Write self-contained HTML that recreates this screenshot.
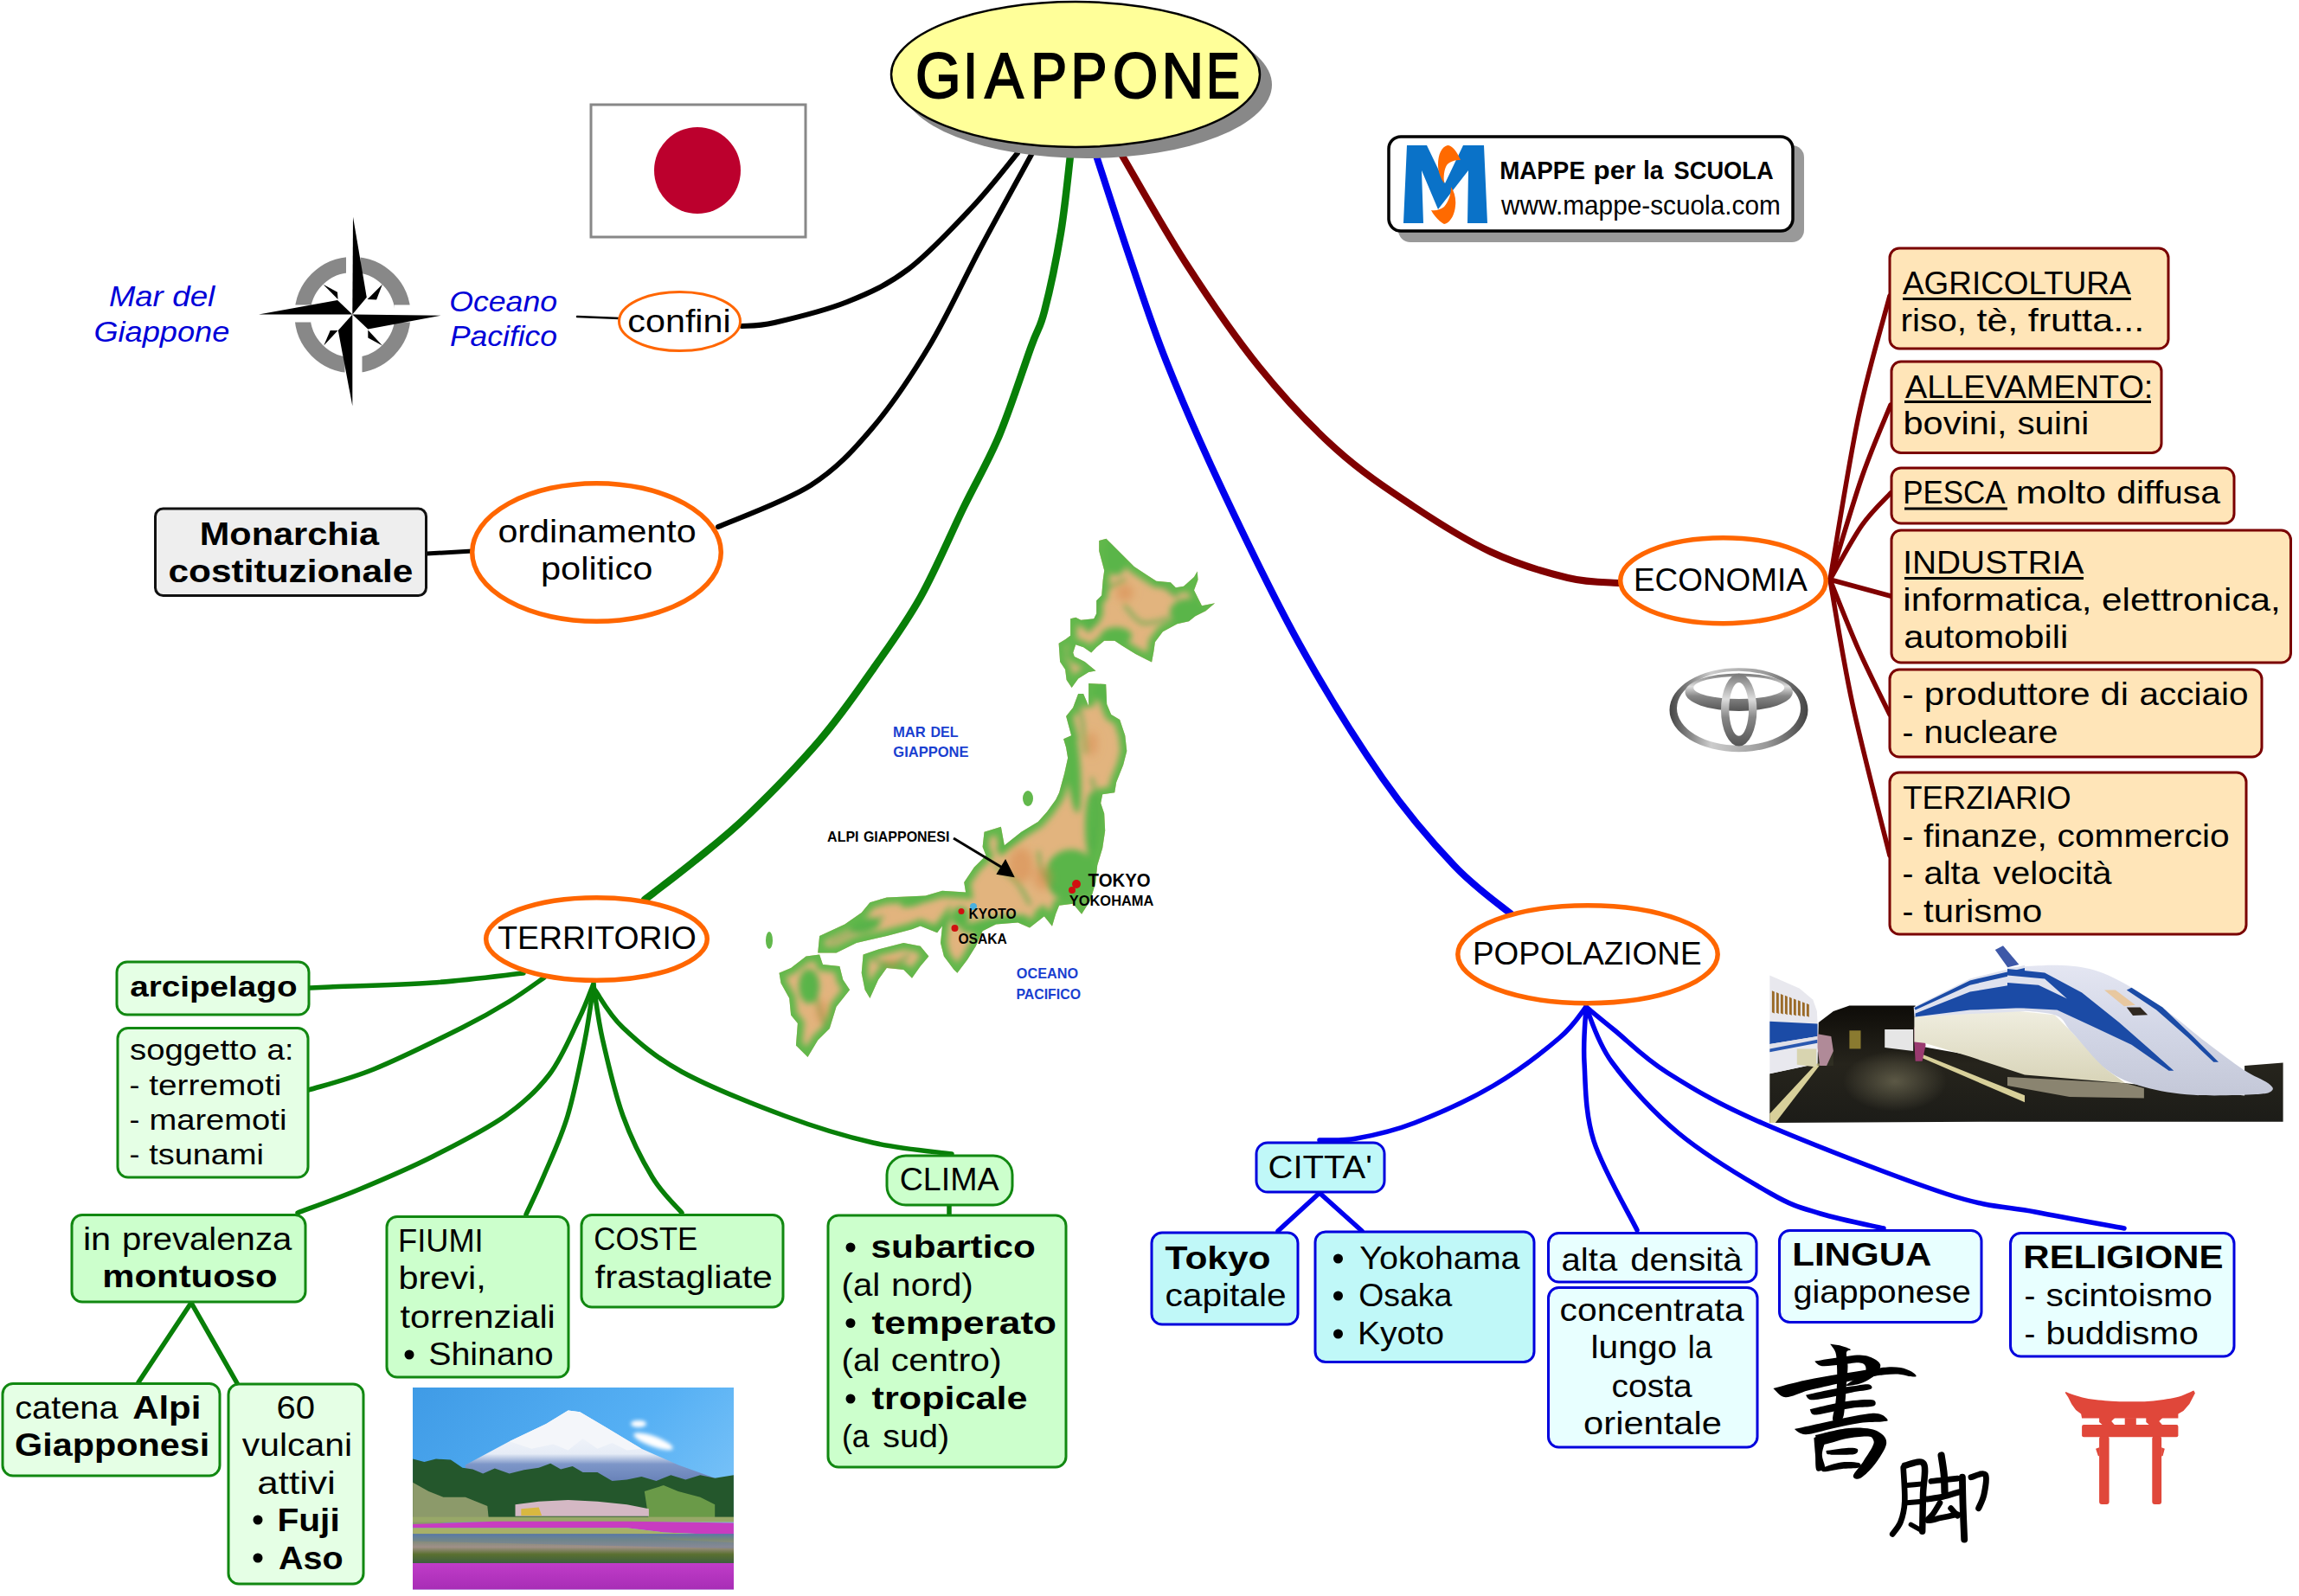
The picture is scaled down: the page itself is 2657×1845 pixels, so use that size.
<!DOCTYPE html><html><head><meta charset="utf-8"><style>html,body{margin:0;padding:0;background:#fff;overflow:hidden}svg{display:block}text{font-family:"Liberation Sans",sans-serif}</style></head><body>
<svg width="2657" height="1845" viewBox="0 0 2657 1845">
<rect width="2657" height="1845" fill="#fff"/>
<path d="M1176.0,177.0 C1167.3,187.3 1145.0,216.7 1124.0,239.0 C1103.0,261.3 1074.2,292.7 1050.0,311.0 C1025.8,329.3 1004.8,338.7 979.0,349.0 C953.2,359.3 915.3,368.3 895.0,373.0 C874.7,377.7 863.3,376.3 857.0,377.0" fill="none" stroke="#000" stroke-width="6" stroke-linecap="round" stroke-linejoin="round"/>
<path d="M1193.0,177.0 C1183.0,195.3 1152.8,249.8 1133.0,287.0 C1113.2,324.2 1094.8,365.3 1074.0,400.0 C1053.2,434.7 1030.8,468.2 1008.0,495.0 C985.2,521.8 966.7,542.0 937.0,561.0 C907.3,580.0 847.8,601.0 830.0,609.0" fill="none" stroke="#000" stroke-width="6" stroke-linecap="round" stroke-linejoin="round"/>
<path d="M1237.0,180.0 C1235.2,194.8 1231.0,239.0 1226.0,269.0 C1221.0,299.0 1212.7,338.2 1207.0,360.0 C1201.3,381.8 1200.7,376.2 1192.0,400.0 C1183.3,423.8 1168.0,472.0 1155.0,503.0 C1142.0,534.0 1129.2,554.8 1114.0,586.0 C1098.8,617.2 1081.3,659.0 1064.0,690.0 C1046.7,721.0 1029.3,744.5 1010.0,772.0 C990.7,799.5 972.2,826.7 948.0,855.0 C923.8,883.3 889.2,918.7 865.0,942.0 C840.8,965.3 823.0,978.7 803.0,995.0 C783.0,1011.3 754.7,1032.5 745.0,1040.0" fill="none" stroke="#087f08" stroke-width="8.5" stroke-linecap="round" stroke-linejoin="round"/>
<path d="M1267.0,180.0 C1273.5,199.8 1292.5,259.3 1306.0,299.0 C1319.5,338.7 1330.2,373.3 1348.0,418.0 C1365.8,462.7 1387.3,512.5 1413.0,567.0 C1438.7,621.5 1471.2,689.5 1502.0,745.0 C1532.8,800.5 1568.2,857.3 1598.0,900.0 C1627.8,942.7 1656.0,974.7 1681.0,1001.0 C1706.0,1027.3 1736.8,1048.5 1748.0,1058.0" fill="none" stroke="#0000ee" stroke-width="8" stroke-linecap="round" stroke-linejoin="round"/>
<path d="M1297.0,180.0 C1309.3,200.8 1344.7,264.3 1371.0,305.0 C1397.3,345.7 1426.2,388.3 1455.0,424.0 C1483.8,459.7 1514.3,492.2 1544.0,519.0 C1573.7,545.8 1603.2,565.2 1633.0,585.0 C1662.8,604.8 1693.2,624.2 1723.0,638.0 C1752.8,651.8 1787.2,662.0 1812.0,668.0 C1836.8,674.0 1862.0,673.0 1872.0,674.0" fill="none" stroke="#800000" stroke-width="8" stroke-linecap="round" stroke-linejoin="round"/>
<path d="M667,366 L716,368" fill="none" stroke="#000" stroke-width="2.5" stroke-linecap="round" stroke-linejoin="round"/>
<path d="M493,640 L546,637" fill="none" stroke="#000" stroke-width="5" stroke-linecap="round" stroke-linejoin="round"/>
<path d="M605.0,1125.0 C587.5,1126.8 537.3,1133.3 500.0,1136.0 C462.7,1138.7 404.8,1140.0 381.0,1141.0 C357.2,1142.0 361.0,1141.8 357.0,1142.0" fill="none" stroke="#087f08" stroke-width="5.5" stroke-linecap="round" stroke-linejoin="round"/>
<path d="M629.0,1130.0 C622.2,1134.7 603.8,1148.3 588.0,1158.0 C572.2,1167.7 560.0,1175.0 534.0,1188.0 C508.0,1201.0 461.5,1224.0 432.0,1236.0 C402.5,1248.0 369.5,1256.0 357.0,1260.0" fill="none" stroke="#087f08" stroke-width="5.5" stroke-linecap="round" stroke-linejoin="round"/>
<path d="M686.0,1137.0 C683.2,1143.8 677.5,1160.5 669.0,1178.0 C660.5,1195.5 649.2,1223.3 635.0,1242.0 C620.8,1260.7 606.5,1274.2 584.0,1290.0 C561.5,1305.8 528.2,1322.8 500.0,1337.0 C471.8,1351.2 441.0,1364.2 415.0,1375.0 C389.0,1385.8 355.8,1397.5 344.0,1402.0" fill="none" stroke="#087f08" stroke-width="5.5" stroke-linecap="round" stroke-linejoin="round"/>
<path d="M686.0,1139.0 C684.3,1149.5 681.0,1176.8 676.0,1202.0 C671.0,1227.2 663.8,1264.0 656.0,1290.0 C648.2,1316.0 637.0,1339.0 629.0,1358.0 C621.0,1377.0 611.5,1396.3 608.0,1404.0" fill="none" stroke="#087f08" stroke-width="5.5" stroke-linecap="round" stroke-linejoin="round"/>
<path d="M686.0,1139.0 C687.8,1149.5 690.8,1176.8 696.5,1202.0 C702.2,1227.2 710.4,1263.5 720.0,1290.0 C729.6,1316.5 742.7,1342.3 754.0,1361.0 C765.3,1379.7 782.3,1395.2 788.0,1402.0" fill="none" stroke="#087f08" stroke-width="5.5" stroke-linecap="round" stroke-linejoin="round"/>
<path d="M688.0,1145.0 C693.3,1152.2 703.3,1172.3 720.0,1188.0 C736.7,1203.7 756.8,1222.0 788.0,1239.0 C819.2,1256.0 870.2,1276.3 907.0,1290.0 C943.8,1303.7 976.8,1313.7 1009.0,1321.0 C1041.2,1328.3 1084.8,1331.8 1100.0,1334.0" fill="none" stroke="#087f08" stroke-width="5.5" stroke-linecap="round" stroke-linejoin="round"/>
<path d="M1097,1393 L1097,1406" fill="none" stroke="#087f08" stroke-width="5.5" stroke-linecap="round" stroke-linejoin="round"/>
<path d="M221,1506 L160,1598 M221,1506 L274,1599" fill="none" stroke="#087f08" stroke-width="5.5" stroke-linecap="round" stroke-linejoin="round"/>
<path d="M1833.0,1164.0 C1827.8,1170.0 1819.8,1184.8 1802.0,1200.0 C1784.2,1215.2 1753.8,1238.7 1726.0,1255.0 C1698.2,1271.3 1661.3,1287.8 1635.0,1298.0 C1608.7,1308.2 1586.3,1312.7 1568.0,1316.0 C1549.7,1319.3 1532.2,1317.7 1525.0,1318.0" fill="none" stroke="#0000ee" stroke-width="5.5" stroke-linecap="round" stroke-linejoin="round"/>
<path d="M1833.0,1164.0 C1832.7,1174.7 1829.5,1202.2 1831.0,1228.0 C1832.5,1253.8 1831.8,1286.7 1842.0,1319.0 C1852.2,1351.3 1883.7,1404.8 1892.0,1422.0" fill="none" stroke="#0000ee" stroke-width="5.5" stroke-linecap="round" stroke-linejoin="round"/>
<path d="M1833.0,1164.0 C1838.0,1174.7 1845.2,1203.7 1863.0,1228.0 C1880.8,1252.3 1909.3,1284.7 1940.0,1310.0 C1970.7,1335.3 2019.7,1364.5 2047.0,1380.0 C2074.3,1395.5 2082.3,1396.3 2104.0,1403.0 C2125.7,1409.7 2164.8,1417.2 2177.0,1420.0" fill="none" stroke="#0000ee" stroke-width="5.5" stroke-linecap="round" stroke-linejoin="round"/>
<path d="M1833.0,1164.0 C1838.5,1168.5 1850.3,1178.3 1866.0,1191.0 C1881.7,1203.7 1898.7,1222.2 1927.0,1240.0 C1955.3,1257.8 1982.3,1274.7 2036.0,1298.0 C2089.7,1321.3 2196.3,1362.8 2249.0,1380.0 C2301.7,1397.2 2317.7,1394.3 2352.0,1401.0 C2386.3,1407.7 2437.8,1416.8 2455.0,1420.0" fill="none" stroke="#0000ee" stroke-width="5.5" stroke-linecap="round" stroke-linejoin="round"/>
<path d="M1525,1379 L1477,1423 M1525,1379 L1574,1423" fill="none" stroke="#0000ee" stroke-width="5.5" stroke-linecap="round" stroke-linejoin="round"/>
<path d="M2115.0,670.0 C2120.5,638.5 2136.5,535.7 2148.0,481.0 C2159.5,426.3 2178.0,365.2 2184.0,342.0" fill="none" stroke="#800000" stroke-width="5.5" stroke-linecap="round" stroke-linejoin="round"/>
<path d="M2115.0,670.0 C2121.2,650.2 2140.3,584.7 2152.0,551.0 C2163.7,517.3 2179.5,481.8 2185.0,468.0" fill="none" stroke="#800000" stroke-width="5.5" stroke-linecap="round" stroke-linejoin="round"/>
<path d="M2115.0,670.0 C2121.2,659.5 2140.3,623.7 2152.0,607.0 C2163.7,590.3 2179.5,576.2 2185.0,570.0" fill="none" stroke="#800000" stroke-width="5.5" stroke-linecap="round" stroke-linejoin="round"/>
<path d="M2115.0,670.0 C2126.7,673.2 2173.3,685.8 2185.0,689.0" fill="none" stroke="#800000" stroke-width="5.5" stroke-linecap="round" stroke-linejoin="round"/>
<path d="M2115.0,670.0 C2120.5,683.5 2136.5,725.0 2148.0,751.0 C2159.5,777.0 2178.0,813.5 2184.0,826.0" fill="none" stroke="#800000" stroke-width="5.5" stroke-linecap="round" stroke-linejoin="round"/>
<path d="M2115.0,670.0 C2119.3,694.0 2129.5,760.8 2141.0,814.0 C2152.5,867.2 2176.8,959.8 2184.0,989.0" fill="none" stroke="#800000" stroke-width="5.5" stroke-linecap="round" stroke-linejoin="round"/>
<ellipse cx="1256" cy="98" rx="214" ry="85" fill="#888"/>
<ellipse cx="1243" cy="86" rx="213" ry="84" fill="#ffff99" stroke="#000" stroke-width="2.5"/>
<text x="1058.1" y="113.0" font-size="74.0" fill="#000" textLength="52.7" lengthAdjust="spacingAndGlyphs" stroke="#000" stroke-width="2">G</text>
<text x="1113.2" y="113.0" font-size="74.0" fill="#000" textLength="16.7" lengthAdjust="spacingAndGlyphs" stroke="#000" stroke-width="2">I</text>
<text x="1138.2" y="113.0" font-size="74.0" fill="#000" textLength="44.5" lengthAdjust="spacingAndGlyphs" stroke="#000" stroke-width="2">A</text>
<text x="1191.2" y="113.0" font-size="74.0" fill="#000" textLength="41.9" lengthAdjust="spacingAndGlyphs" stroke="#000" stroke-width="2">P</text>
<text x="1237.5" y="113.0" font-size="74.0" fill="#000" textLength="42.0" lengthAdjust="spacingAndGlyphs" stroke="#000" stroke-width="2">P</text>
<text x="1285.9" y="113.0" font-size="74.0" fill="#000" textLength="52.3" lengthAdjust="spacingAndGlyphs" stroke="#000" stroke-width="2">O</text>
<text x="1342.4" y="113.0" font-size="74.0" fill="#000" textLength="48.7" lengthAdjust="spacingAndGlyphs" stroke="#000" stroke-width="2">N</text>
<text x="1393.9" y="113.0" font-size="74.0" fill="#000" textLength="39.0" lengthAdjust="spacingAndGlyphs" stroke="#000" stroke-width="2">E</text>
<ellipse cx="785.5" cy="371.5" rx="70.0" ry="34.0" fill="#fff" stroke="#ff6600" stroke-width="3"/>
<text x="725.3" y="384.0" font-size="37.1" fill="#000" textLength="119.4" lengthAdjust="spacingAndGlyphs">confini</text>
<ellipse cx="689.5" cy="638.5" rx="143.8" ry="79.8" fill="#fff" stroke="#ff6600" stroke-width="5.5"/>
<text x="575.4" y="627.0" font-size="37.1" fill="#000" textLength="229.3" lengthAdjust="spacingAndGlyphs">ordinamento</text>
<text x="625.0" y="670.0" font-size="37.1" fill="#000" textLength="129.3" lengthAdjust="spacingAndGlyphs">politico</text>
<rect x="179.5" y="588.0" width="313.0" height="100.5" rx="9" ry="9" fill="#eeeeee" stroke="#111" stroke-width="3"/>
<text x="230.8" y="630.0" font-size="37.1" font-weight="bold" fill="#000" textLength="207.3" lengthAdjust="spacingAndGlyphs">Monarchia</text>
<text x="194.5" y="673.0" font-size="37.1" font-weight="bold" fill="#000" textLength="282.9" lengthAdjust="spacingAndGlyphs">costituzionale</text>
<text x="125.9" y="354.0" font-size="33.0" font-style="italic" fill="#0000d8" textLength="62.8" lengthAdjust="spacingAndGlyphs">Mar</text>
<text x="199.2" y="354.0" font-size="33.0" font-style="italic" fill="#0000d8" textLength="49.1" lengthAdjust="spacingAndGlyphs">del</text>
<text x="108.4" y="395.0" font-size="33.0" font-style="italic" fill="#0000d8" textLength="157.0" lengthAdjust="spacingAndGlyphs">Giappone</text>
<text x="519.2" y="360.0" font-size="33.0" font-style="italic" fill="#0000d8" textLength="124.9" lengthAdjust="spacingAndGlyphs">Oceano</text>
<text x="519.9" y="400.0" font-size="33.0" font-style="italic" fill="#0000d8" textLength="124.2" lengthAdjust="spacingAndGlyphs">Pacifico</text>
<ellipse cx="1991.5" cy="671.2" rx="118.8" ry="49.5" fill="#fff" stroke="#ff6600" stroke-width="5.5"/>
<text x="1888.0" y="683.0" font-size="37.1" fill="#000" textLength="200.9" lengthAdjust="spacingAndGlyphs">ECONOMIA</text>
<rect x="2184.0" y="287.0" width="322.0" height="116.0" rx="11" ry="11" fill="#ffe5b8" stroke="#7a0000" stroke-width="3"/>
<text x="2199.0" y="340.0" font-size="37.1" fill="#000" textLength="263.6" lengthAdjust="spacingAndGlyphs">AGRICOLTURA</text>
<rect x="2199" y="344" width="264" height="3" fill="#000"/>
<text x="2196.4" y="383.0" font-size="37.1" fill="#000" textLength="76.6" lengthAdjust="spacingAndGlyphs">riso,</text>
<text x="2284.5" y="383.0" font-size="37.1" fill="#000" textLength="47.8" lengthAdjust="spacingAndGlyphs">tè,</text>
<text x="2343.7" y="383.0" font-size="37.1" fill="#000" textLength="134.5" lengthAdjust="spacingAndGlyphs">frutta...</text>
<rect x="2186.0" y="418.0" width="312.0" height="105.5" rx="11" ry="11" fill="#ffe5b8" stroke="#7a0000" stroke-width="3"/>
<text x="2202.0" y="459.5" font-size="37.1" fill="#000" textLength="286.3" lengthAdjust="spacingAndGlyphs">ALLEVAMENTO:</text>
<rect x="2201" y="463" width="285" height="3" fill="#000"/>
<text x="2199.5" y="501.7" font-size="37.1" fill="#000" textLength="120.0" lengthAdjust="spacingAndGlyphs">bovini,</text>
<text x="2331.4" y="501.7" font-size="37.1" fill="#000" textLength="82.9" lengthAdjust="spacingAndGlyphs">suini</text>
<rect x="2186.0" y="541.0" width="396.0" height="64.0" rx="11" ry="11" fill="#ffe5b8" stroke="#7a0000" stroke-width="3"/>
<text x="2199.2" y="581.7" font-size="37.1" fill="#000" textLength="118.3" lengthAdjust="spacingAndGlyphs">PESCA</text>
<text x="2329.8" y="581.7" font-size="37.1" fill="#000" textLength="104.3" lengthAdjust="spacingAndGlyphs">molto</text>
<text x="2446.3" y="581.7" font-size="37.1" fill="#000" textLength="119.7" lengthAdjust="spacingAndGlyphs">diffusa</text>
<rect x="2201" y="586.5" width="119" height="3" fill="#000"/>
<rect x="2186.0" y="613.0" width="461.5" height="153.0" rx="11" ry="11" fill="#ffe5b8" stroke="#7a0000" stroke-width="3"/>
<text x="2199.3" y="663.0" font-size="37.1" fill="#000" textLength="209.1" lengthAdjust="spacingAndGlyphs">INDUSTRIA</text>
<rect x="2201" y="667" width="207" height="3" fill="#000"/>
<text x="2199.3" y="706.0" font-size="37.1" fill="#000" textLength="218.3" lengthAdjust="spacingAndGlyphs">informatica,</text>
<text x="2429.0" y="706.0" font-size="37.1" fill="#000" textLength="206.8" lengthAdjust="spacingAndGlyphs">elettronica,</text>
<text x="2200.3" y="749.0" font-size="37.1" fill="#000" textLength="189.9" lengthAdjust="spacingAndGlyphs">automobili</text>
<rect x="2184.0" y="774.0" width="430.0" height="101.0" rx="11" ry="11" fill="#ffe5b8" stroke="#7a0000" stroke-width="3"/>
<text x="2198.4" y="815.0" font-size="37.1" fill="#000" textLength="13.1" lengthAdjust="spacingAndGlyphs">-</text>
<text x="2223.8" y="815.0" font-size="37.1" fill="#000" textLength="191.8" lengthAdjust="spacingAndGlyphs">produttore</text>
<text x="2427.6" y="815.0" font-size="37.1" fill="#000" textLength="32.3" lengthAdjust="spacingAndGlyphs">di</text>
<text x="2472.5" y="815.0" font-size="37.1" fill="#000" textLength="126.1" lengthAdjust="spacingAndGlyphs">acciaio</text>
<text x="2198.4" y="859.0" font-size="37.1" fill="#000" textLength="12.9" lengthAdjust="spacingAndGlyphs">-</text>
<text x="2223.4" y="859.0" font-size="37.1" fill="#000" textLength="155.1" lengthAdjust="spacingAndGlyphs">nucleare</text>
<rect x="2184.0" y="893.0" width="412.0" height="187.0" rx="11" ry="11" fill="#ffe5b8" stroke="#7a0000" stroke-width="3"/>
<text x="2199.3" y="935.0" font-size="37.1" fill="#000" textLength="194.4" lengthAdjust="spacingAndGlyphs">TERZIARIO</text>
<text x="2198.4" y="979.0" font-size="37.1" fill="#000" textLength="12.9" lengthAdjust="spacingAndGlyphs">-</text>
<text x="2223.1" y="979.0" font-size="37.1" fill="#000" textLength="142.8" lengthAdjust="spacingAndGlyphs">finanze,</text>
<text x="2377.5" y="979.0" font-size="37.1" fill="#000" textLength="199.3" lengthAdjust="spacingAndGlyphs">commercio</text>
<text x="2198.4" y="1022.0" font-size="37.1" fill="#000" textLength="12.9" lengthAdjust="spacingAndGlyphs">-</text>
<text x="2223.4" y="1022.0" font-size="37.1" fill="#000" textLength="64.5" lengthAdjust="spacingAndGlyphs">alta</text>
<text x="2303.6" y="1022.0" font-size="37.1" fill="#000" textLength="137.0" lengthAdjust="spacingAndGlyphs">velocità</text>
<text x="2198.4" y="1066.0" font-size="37.1" fill="#000" textLength="12.9" lengthAdjust="spacingAndGlyphs">-</text>
<text x="2223.1" y="1066.0" font-size="37.1" fill="#000" textLength="137.3" lengthAdjust="spacingAndGlyphs">turismo</text>
<ellipse cx="1835.0" cy="1103.2" rx="150.2" ry="56.5" fill="#fff" stroke="#ff6600" stroke-width="5.5"/>
<text x="1702.0" y="1115.0" font-size="37.1" fill="#000" textLength="264.6" lengthAdjust="spacingAndGlyphs">POPOLAZIONE</text>
<rect x="1452.0" y="1321.0" width="148.0" height="57.0" rx="13" ry="13" fill="#c0f8f8" stroke="#0000dd" stroke-width="3"/>
<text x="1465.5" y="1362.0" font-size="37.1" fill="#000" textLength="120.3" lengthAdjust="spacingAndGlyphs">CITTA'</text>
<rect x="1331.0" y="1425.0" width="169.0" height="106.0" rx="12" ry="12" fill="#c0f8f8" stroke="#0000dd" stroke-width="3"/>
<text x="1346.6" y="1467.0" font-size="37.1" font-weight="bold" fill="#000" textLength="121.9" lengthAdjust="spacingAndGlyphs">Tokyo</text>
<text x="1346.4" y="1510.0" font-size="37.1" fill="#000" textLength="140.3" lengthAdjust="spacingAndGlyphs">capitale</text>
<rect x="1520.0" y="1424.0" width="253.0" height="150.5" rx="12" ry="12" fill="#c0f8f8" stroke="#0000dd" stroke-width="3"/>
<circle cx="1546.5" cy="1455" r="5.5" fill="#000"/>
<circle cx="1546.5" cy="1498" r="5.5" fill="#000"/>
<circle cx="1546.5" cy="1542" r="5.5" fill="#000"/>
<text x="1571.2" y="1467.0" font-size="37.1" fill="#000" textLength="185.4" lengthAdjust="spacingAndGlyphs">Yokohama</text>
<text x="1570.3" y="1510.0" font-size="37.1" fill="#000" textLength="107.9" lengthAdjust="spacingAndGlyphs">Osaka</text>
<text x="1568.9" y="1554.0" font-size="37.1" fill="#000" textLength="100.0" lengthAdjust="spacingAndGlyphs">Kyoto</text>
<rect x="1789.5" y="1425.5" width="240.5" height="56.5" rx="12" ry="12" fill="#e8ffff" stroke="#0000dd" stroke-width="3"/>
<text x="1804.6" y="1469.0" font-size="37.1" fill="#000" textLength="64.6" lengthAdjust="spacingAndGlyphs">alta</text>
<text x="1884.3" y="1469.0" font-size="37.1" fill="#000" textLength="129.2" lengthAdjust="spacingAndGlyphs">densità</text>
<rect x="1789.5" y="1488.5" width="241.5" height="184.5" rx="12" ry="12" fill="#e8ffff" stroke="#0000dd" stroke-width="3"/>
<text x="1802.6" y="1527.0" font-size="37.1" fill="#000" textLength="213.0" lengthAdjust="spacingAndGlyphs">concentrata</text>
<text x="1838.5" y="1570.0" font-size="37.1" fill="#000" textLength="99.8" lengthAdjust="spacingAndGlyphs">lungo</text>
<text x="1950.8" y="1570.0" font-size="37.1" fill="#000" textLength="28.0" lengthAdjust="spacingAndGlyphs">la</text>
<text x="1862.6" y="1614.5" font-size="37.1" fill="#000" textLength="93.0" lengthAdjust="spacingAndGlyphs">costa</text>
<text x="1830.1" y="1658.0" font-size="37.1" fill="#000" textLength="159.8" lengthAdjust="spacingAndGlyphs">orientale</text>
<rect x="2056.5" y="1422.5" width="233.5" height="106.0" rx="12" ry="12" fill="#e8ffff" stroke="#0000dd" stroke-width="3"/>
<text x="2071.3" y="1463.0" font-size="37.1" font-weight="bold" fill="#000" textLength="161.0" lengthAdjust="spacingAndGlyphs">LINGUA</text>
<text x="2072.4" y="1506.0" font-size="37.1" fill="#000" textLength="205.5" lengthAdjust="spacingAndGlyphs">giapponese</text>
<rect x="2323.5" y="1425.5" width="258.5" height="142.5" rx="12" ry="12" fill="#e8ffff" stroke="#0000dd" stroke-width="3"/>
<text x="2338.3" y="1466.0" font-size="37.1" font-weight="bold" fill="#000" textLength="231.2" lengthAdjust="spacingAndGlyphs">RELIGIONE</text>
<text x="2339.4" y="1510.0" font-size="37.1" fill="#000" textLength="12.9" lengthAdjust="spacingAndGlyphs">-</text>
<text x="2364.6" y="1510.0" font-size="37.1" fill="#000" textLength="192.3" lengthAdjust="spacingAndGlyphs">scintoismo</text>
<text x="2339.4" y="1554.0" font-size="37.1" fill="#000" textLength="12.9" lengthAdjust="spacingAndGlyphs">-</text>
<text x="2364.6" y="1554.0" font-size="37.1" fill="#000" textLength="176.2" lengthAdjust="spacingAndGlyphs">buddismo</text>
<ellipse cx="689.5" cy="1085.5" rx="127.8" ry="47.8" fill="#fff" stroke="#ff6600" stroke-width="5.5"/>
<text x="575.3" y="1097.0" font-size="37.1" fill="#000" textLength="229.6" lengthAdjust="spacingAndGlyphs">TERRITORIO</text>
<rect x="135.0" y="1112.0" width="222.0" height="61.0" rx="12" ry="12" fill="#e5ffe5" stroke="#118811" stroke-width="3"/>
<text x="150.2" y="1152.0" font-size="34.0" font-weight="bold" fill="#000" textLength="193.4" lengthAdjust="spacingAndGlyphs">arcipelago</text>
<rect x="136.0" y="1188.5" width="220.0" height="172.5" rx="12" ry="12" fill="#e5ffe5" stroke="#118811" stroke-width="3"/>
<text x="150.0" y="1225.0" font-size="34.0" fill="#000" textLength="147.0" lengthAdjust="spacingAndGlyphs">soggetto</text>
<text x="308.4" y="1225.0" font-size="34.0" fill="#000" textLength="30.9" lengthAdjust="spacingAndGlyphs">a:</text>
<text x="149.6" y="1265.5" font-size="34.0" fill="#000" textLength="11.9" lengthAdjust="spacingAndGlyphs">-</text>
<text x="172.2" y="1265.5" font-size="34.0" fill="#000" textLength="153.1" lengthAdjust="spacingAndGlyphs">terremoti</text>
<text x="149.6" y="1305.5" font-size="34.0" fill="#000" textLength="11.9" lengthAdjust="spacingAndGlyphs">-</text>
<text x="172.4" y="1305.5" font-size="34.0" fill="#000" textLength="159.0" lengthAdjust="spacingAndGlyphs">maremoti</text>
<text x="149.6" y="1346.0" font-size="34.0" fill="#000" textLength="11.9" lengthAdjust="spacingAndGlyphs">-</text>
<text x="172.2" y="1346.0" font-size="34.0" fill="#000" textLength="132.8" lengthAdjust="spacingAndGlyphs">tsunami</text>
<rect x="83.0" y="1404.5" width="270.0" height="100.5" rx="12" ry="12" fill="#ccffcc" stroke="#118811" stroke-width="3"/>
<text x="95.9" y="1444.6" font-size="37.1" fill="#000" textLength="32.3" lengthAdjust="spacingAndGlyphs">in</text>
<text x="141.0" y="1444.6" font-size="37.1" fill="#000" textLength="196.3" lengthAdjust="spacingAndGlyphs">prevalenza</text>
<text x="118.3" y="1487.7" font-size="37.1" font-weight="bold" fill="#000" textLength="202.3" lengthAdjust="spacingAndGlyphs">montuoso</text>
<rect x="3.0" y="1599.5" width="251.0" height="106.5" rx="12" ry="12" fill="#e5ffe5" stroke="#118811" stroke-width="3"/>
<text x="17.2" y="1640.0" font-size="37.1" fill="#000" textLength="119.4" lengthAdjust="spacingAndGlyphs">catena</text>
<text x="153.2" y="1640.0" font-size="37.1" font-weight="bold" fill="#000" textLength="79.2" lengthAdjust="spacingAndGlyphs">Alpi</text>
<text x="17.1" y="1683.4" font-size="37.1" font-weight="bold" fill="#000" textLength="225.2" lengthAdjust="spacingAndGlyphs">Giapponesi</text>
<rect x="264.0" y="1600.0" width="156.0" height="231.0" rx="12" ry="12" fill="#e5ffe5" stroke="#118811" stroke-width="3"/>
<text x="319.5" y="1640.0" font-size="37.1" fill="#000" textLength="44.5" lengthAdjust="spacingAndGlyphs">60</text>
<text x="279.8" y="1683.4" font-size="37.1" fill="#000" textLength="127.2" lengthAdjust="spacingAndGlyphs">vulcani</text>
<text x="297.2" y="1726.5" font-size="37.1" fill="#000" textLength="90.7" lengthAdjust="spacingAndGlyphs">attivi</text>
<circle cx="298" cy="1757" r="5.5" fill="#000"/>
<circle cx="298" cy="1801" r="5.5" fill="#000"/>
<text x="320.4" y="1769.5" font-size="37.1" font-weight="bold" fill="#000" textLength="72.3" lengthAdjust="spacingAndGlyphs">Fuji</text>
<text x="322.0" y="1813.8" font-size="37.1" font-weight="bold" fill="#000" textLength="74.7" lengthAdjust="spacingAndGlyphs">Aso</text>
<rect x="447.0" y="1406.5" width="210.0" height="185.5" rx="12" ry="12" fill="#ccffcc" stroke="#118811" stroke-width="3"/>
<text x="460.1" y="1446.5" font-size="37.1" fill="#000" textLength="98.6" lengthAdjust="spacingAndGlyphs">FIUMI</text>
<text x="460.5" y="1490.4" font-size="37.1" fill="#000" textLength="101.2" lengthAdjust="spacingAndGlyphs">brevi,</text>
<text x="462.4" y="1534.6" font-size="37.1" fill="#000" textLength="179.4" lengthAdjust="spacingAndGlyphs">torrenziali</text>
<circle cx="473" cy="1566" r="5.5" fill="#000"/>
<text x="495.2" y="1577.7" font-size="37.1" fill="#000" textLength="144.5" lengthAdjust="spacingAndGlyphs">Shinano</text>
<rect x="672.0" y="1404.5" width="233.0" height="106.5" rx="12" ry="12" fill="#ccffcc" stroke="#118811" stroke-width="3"/>
<text x="686.3" y="1444.8" font-size="37.1" fill="#000" textLength="120.0" lengthAdjust="spacingAndGlyphs">COSTE</text>
<text x="687.6" y="1488.6" font-size="37.1" fill="#000" textLength="205.2" lengthAdjust="spacingAndGlyphs">frastagliate</text>
<rect x="1025.0" y="1336.0" width="145.0" height="57.0" rx="22" ry="22" fill="#ccffcc" stroke="#118811" stroke-width="3"/>
<text x="1039.7" y="1376.0" font-size="37.1" fill="#000" textLength="114.9" lengthAdjust="spacingAndGlyphs">CLIMA</text>
<rect x="957.0" y="1405.0" width="275.0" height="291.0" rx="12" ry="12" fill="#ccffcc" stroke="#118811" stroke-width="3"/>
<circle cx="983" cy="1442" r="5.5" fill="#000"/>
<circle cx="983" cy="1529.5" r="5.5" fill="#000"/>
<circle cx="983" cy="1617" r="5.5" fill="#000"/>
<text x="1006.5" y="1454.0" font-size="37.1" font-weight="bold" fill="#000" textLength="190.2" lengthAdjust="spacingAndGlyphs">subartico</text>
<text x="972.6" y="1498.0" font-size="37.1" fill="#000" textLength="44.7" lengthAdjust="spacingAndGlyphs">(al</text>
<text x="1030.1" y="1498.0" font-size="37.1" fill="#000" textLength="94.7" lengthAdjust="spacingAndGlyphs">nord)</text>
<text x="1007.6" y="1541.5" font-size="37.1" font-weight="bold" fill="#000" textLength="213.5" lengthAdjust="spacingAndGlyphs">temperato</text>
<text x="972.6" y="1585.0" font-size="37.1" fill="#000" textLength="44.7" lengthAdjust="spacingAndGlyphs">(al</text>
<text x="1029.8" y="1585.0" font-size="37.1" fill="#000" textLength="127.8" lengthAdjust="spacingAndGlyphs">centro)</text>
<text x="1007.6" y="1629.0" font-size="37.1" font-weight="bold" fill="#000" textLength="179.9" lengthAdjust="spacingAndGlyphs">tropicale</text>
<text x="972.9" y="1673.0" font-size="37.1" fill="#000" textLength="31.8" lengthAdjust="spacingAndGlyphs">(a</text>
<text x="1020.3" y="1673.0" font-size="37.1" fill="#000" textLength="77.0" lengthAdjust="spacingAndGlyphs">sud)</text>
<rect x="1616" y="168" width="469" height="112" rx="14" fill="#999"/>
<rect x="1605.0" y="158.0" width="467.0" height="109.0" rx="14" ry="14" fill="#fff" stroke="#000" stroke-width="3.5"/>
<text x="1733.2" y="207.0" font-size="29.9" font-weight="bold" fill="#000" textLength="98.7" lengthAdjust="spacingAndGlyphs">MAPPE</text>
<text x="1841.6" y="207.0" font-size="29.9" font-weight="bold" fill="#000" textLength="48.7" lengthAdjust="spacingAndGlyphs">per</text>
<text x="1898.9" y="207.0" font-size="29.9" font-weight="bold" fill="#000" textLength="23.6" lengthAdjust="spacingAndGlyphs">la</text>
<text x="1934.6" y="207.0" font-size="29.9" font-weight="bold" fill="#000" textLength="115.0" lengthAdjust="spacingAndGlyphs">SCUOLA</text>
<text x="1735.1" y="247.5" font-size="30.9" fill="#000" textLength="322.7" lengthAdjust="spacingAndGlyphs">www.mappe-scuola.com</text>
<rect x="683" y="121" width="248" height="153" fill="#fff" stroke="#888" stroke-width="3"/>
<circle cx="806" cy="197" r="50" fill="#bc002d"/>
<path d="M1622,258 L1626,168 L1649,168 L1670,212 L1691,168 L1715,168 L1719,258 L1696,258 L1697,197 L1662,242 L1643,197 L1645,258 Z" fill="#0a72c8"/>
<path d="M1688,185 C1684,175 1678,168 1673,168 C1666,170 1662,178 1662,191 C1662,200 1666,207 1669,212 C1668,204 1669,196 1672,191 C1676,186 1682,185 1688,185 Z" fill="#ff6a00"/>
<path d="M1677,216 C1681,222 1683,230 1682,238 C1681,250 1675,258 1669,259 C1663,256 1657,249 1654,243 C1660,244 1665,242 1669,239 C1674,233 1677,225 1677,216 Z" fill="#ff6a00"/>
<circle cx="407.5" cy="364" r="58" fill="none" stroke="#888" stroke-width="18"/>
<rect x="400.0" y="292" width="16.5" height="24" fill="#fff"/>
<rect x="398.5" y="412" width="20" height="24" fill="#fff"/>
<rect x="335.5" y="352.5" width="24" height="20" fill="#fff"/>
<rect x="455.5" y="352.5" width="24" height="20" fill="#fff"/>
<path d="M408.0,250.8 L423.8,343.8 L407.3,363.6 Z" fill="#000"/>
<path d="M299.0,363.6 L390.0,347.1 L407.3,363.6 Z" fill="#000"/>
<path d="M509.5,364.8 L425.3,380.6 L407.3,363.6 Z" fill="#000"/>
<path d="M407.3,469.3 L390.8,382.1 L407.3,363.6 Z" fill="#000"/>
<path d="M373.5,328.7 L390.0,337.7 L390.5,346.0 Z" fill="#000"/>
<path d="M441.9,328.7 L435.1,346.5 L424.6,346.0 Z" fill="#000"/>
<path d="M441.9,399.4 L425.3,390.4 L425.3,381.4 Z" fill="#000"/>
<path d="M374.2,399.4 L381.7,382.1 L390.5,382.1 Z" fill="#000"/>
<defs><linearGradient id="silv" x1="0" y1="0" x2="0" y2="1"><stop offset="0" stop-color="#777"/><stop offset="0.35" stop-color="#ddd"/><stop offset="0.6" stop-color="#888"/><stop offset="1" stop-color="#555"/></linearGradient><linearGradient id="silv2" x1="0" y1="0" x2="1" y2="0"><stop offset="0" stop-color="#444"/><stop offset="0.3" stop-color="#ccc"/><stop offset="0.7" stop-color="#999"/><stop offset="1" stop-color="#444"/></linearGradient></defs>
<path d="M1929.5,820.65 a80,48.5 0 1,0 160,0 a80,48.5 0 1,0 -160,0 Z M1938.0,818.8 a71.5,43 0 1,0 143.0,0 a71.5,43 0 1,0 -143.0,0 Z" fill="url(#silv2)" fill-rule="evenodd"/>
<path d="M1947.5,800.2 a62.2,21.8 0 1,0 124.4,0 a62.2,21.8 0 1,0 -124.4,0 Z M1957.2,795 a52.5,13 0 1,0 105.0,0 a52.5,13 0 1,0 -105.0,0 Z" fill="url(#silv)" fill-rule="evenodd"/>
<path d="M1989.0,820.7 a20.7,41.9 0 1,0 41.4,0 a20.7,41.9 0 1,0 -41.4,0 Z M1998.3,819.9 a11.4,30.9 0 1,0 22.8,0 a11.4,30.9 0 1,0 -22.8,0 Z" fill="url(#silv)" fill-rule="evenodd"/>
<defs><clipPath id="land"><path d="M1270.2,625.0 L1278.5,622.8 L1285.3,629.5 L1295.8,640.1 L1310.8,655.1 L1324.4,664.1 L1336.4,671.7 L1352.9,673.2 L1358.9,679.2 L1368.0,677.7 L1380.0,667.1 L1383.8,660.4 L1384.5,670.2 L1380.0,682.2 L1384.5,691.2 L1389.0,700.2 L1404.1,697.2 L1393.5,706.2 L1381.5,712.3 L1374.0,718.3 L1360.5,721.3 L1343.9,730.3 L1334.9,742.3 L1333.4,752.9 L1331.1,765.6 L1312.3,755.9 L1297.3,746.8 L1288.3,740.8 L1276.2,740.8 L1267.2,748.3 L1261.2,754.4 L1252.2,748.3 L1243.2,745.3 L1240.2,754.4 L1241.7,758.9 L1253.7,764.9 L1266.5,775.4 L1258.2,776.9 L1246.2,784.4 L1238.6,795.0 L1232.6,785.9 L1231.1,773.9 L1225.1,764.9 L1223.6,743.8 L1231.1,739.3 L1237.1,734.8 L1237.1,715.3 L1243.2,713.8 L1249.2,716.8 L1264.2,715.3 L1267.2,709.2 L1267.2,694.2 L1273.2,688.2 L1274.7,670.2 L1276.2,659.6 L1270.2,637.1 Z M1258.1,790.0 L1278.2,791.0 L1279.2,814.1 L1284.2,826.1 L1294.2,832.1 L1300.3,850.2 L1302.3,868.2 L1298.2,884.3 L1290.2,904.3 L1288.2,916.3 L1274.2,918.3 L1272.2,928.4 L1276.2,940.4 L1277.2,960.5 L1274.2,980.5 L1268.2,1000.6 L1266.2,1020.6 L1260.2,1040.7 L1250.1,1056.7 L1240.1,1044.7 L1224.1,1046.7 L1220.1,1056.7 L1216.0,1070.7 L1208.0,1060.7 L1200.0,1050.7 L1207.5,1058.8 L1190.0,1072.4 L1176.4,1066.6 L1151.1,1068.5 L1135.6,1076.3 L1127.8,1093.8 L1118.1,1109.3 L1106.4,1124.8 L1102.5,1121.0 L1090.9,1105.4 L1087.0,1089.9 L1089.0,1070.4 L1083.1,1078.2 L1063.7,1070.4 L1054.0,1074.3 L1024.8,1082.1 L989.9,1089.9 L966.6,1101.5 L945.2,1101.5 L947.1,1082.1 L976.3,1068.5 L995.7,1054.9 L1005.4,1043.2 L1024.8,1037.4 L1069.5,1035.5 L1089.0,1029.7 L1116.1,1031.6 L1114.2,1019.9 L1125.9,1002.5 L1139.5,988.9 L1135.6,979.1 L1137.5,961.7 L1156.9,955.8 L1160.8,977.2 L1180.3,961.7 L1199.7,950.0 L1210.0,938.4 L1220.1,924.4 L1224.1,916.3 L1230.1,894.3 L1234.1,876.2 L1232.1,864.2 L1229.1,854.2 L1238.1,850.2 L1232.1,828.1 L1240.1,818.1 L1246.1,802.1 L1252.1,802.1 L1258.1,816.1 Z M997.6,1103.5 L1015.1,1097.6 L1044.3,1089.9 L1063.7,1093.8 L1073.4,1105.4 L1063.7,1117.1 L1054.0,1130.7 L1044.3,1121.0 L1024.8,1119.0 L1015.1,1132.6 L1005.4,1154.0 L999.6,1144.3 L995.7,1124.8 Z M931.6,1105.4 L947.1,1103.5 L951.0,1115.1 L970.4,1117.1 L974.3,1132.6 L982.1,1144.3 L966.6,1163.7 L958.8,1189.0 L945.2,1202.5 L933.5,1222.0 L919.9,1208.4 L921.9,1183.1 L914.1,1173.4 L912.2,1154.0 L902.5,1136.5 L900.5,1124.8 L914.1,1119.0 Z"/></clipPath><filter id="blur4" x="-20%" y="-20%" width="140%" height="140%"><feGaussianBlur stdDeviation="3.5"/></filter></defs>
<g clip-path="url(#land)">
<rect x="850" y="610" width="560" height="640" fill="#e2b47e"/>
<g filter="url(#blur4)">
<path d="M1270.2,625.0 L1278.5,622.8 L1285.3,629.5 L1295.8,640.1 L1310.8,655.1 L1324.4,664.1 L1336.4,671.7 L1352.9,673.2 L1358.9,679.2 L1368.0,677.7 L1380.0,667.1 L1383.8,660.4 L1384.5,670.2 L1380.0,682.2 L1384.5,691.2 L1389.0,700.2 L1404.1,697.2 L1393.5,706.2 L1381.5,712.3 L1374.0,718.3 L1360.5,721.3 L1343.9,730.3 L1334.9,742.3 L1333.4,752.9 L1331.1,765.6 L1312.3,755.9 L1297.3,746.8 L1288.3,740.8 L1276.2,740.8 L1267.2,748.3 L1261.2,754.4 L1252.2,748.3 L1243.2,745.3 L1240.2,754.4 L1241.7,758.9 L1253.7,764.9 L1266.5,775.4 L1258.2,776.9 L1246.2,784.4 L1238.6,795.0 L1232.6,785.9 L1231.1,773.9 L1225.1,764.9 L1223.6,743.8 L1231.1,739.3 L1237.1,734.8 L1237.1,715.3 L1243.2,713.8 L1249.2,716.8 L1264.2,715.3 L1267.2,709.2 L1267.2,694.2 L1273.2,688.2 L1274.7,670.2 L1276.2,659.6 L1270.2,637.1 Z M1258.1,790.0 L1278.2,791.0 L1279.2,814.1 L1284.2,826.1 L1294.2,832.1 L1300.3,850.2 L1302.3,868.2 L1298.2,884.3 L1290.2,904.3 L1288.2,916.3 L1274.2,918.3 L1272.2,928.4 L1276.2,940.4 L1277.2,960.5 L1274.2,980.5 L1268.2,1000.6 L1266.2,1020.6 L1260.2,1040.7 L1250.1,1056.7 L1240.1,1044.7 L1224.1,1046.7 L1220.1,1056.7 L1216.0,1070.7 L1208.0,1060.7 L1200.0,1050.7 L1207.5,1058.8 L1190.0,1072.4 L1176.4,1066.6 L1151.1,1068.5 L1135.6,1076.3 L1127.8,1093.8 L1118.1,1109.3 L1106.4,1124.8 L1102.5,1121.0 L1090.9,1105.4 L1087.0,1089.9 L1089.0,1070.4 L1083.1,1078.2 L1063.7,1070.4 L1054.0,1074.3 L1024.8,1082.1 L989.9,1089.9 L966.6,1101.5 L945.2,1101.5 L947.1,1082.1 L976.3,1068.5 L995.7,1054.9 L1005.4,1043.2 L1024.8,1037.4 L1069.5,1035.5 L1089.0,1029.7 L1116.1,1031.6 L1114.2,1019.9 L1125.9,1002.5 L1139.5,988.9 L1135.6,979.1 L1137.5,961.7 L1156.9,955.8 L1160.8,977.2 L1180.3,961.7 L1199.7,950.0 L1210.0,938.4 L1220.1,924.4 L1224.1,916.3 L1230.1,894.3 L1234.1,876.2 L1232.1,864.2 L1229.1,854.2 L1238.1,850.2 L1232.1,828.1 L1240.1,818.1 L1246.1,802.1 L1252.1,802.1 L1258.1,816.1 Z M997.6,1103.5 L1015.1,1097.6 L1044.3,1089.9 L1063.7,1093.8 L1073.4,1105.4 L1063.7,1117.1 L1054.0,1130.7 L1044.3,1121.0 L1024.8,1119.0 L1015.1,1132.6 L1005.4,1154.0 L999.6,1144.3 L995.7,1124.8 Z M931.6,1105.4 L947.1,1103.5 L951.0,1115.1 L970.4,1117.1 L974.3,1132.6 L982.1,1144.3 L966.6,1163.7 L958.8,1189.0 L945.2,1202.5 L933.5,1222.0 L919.9,1208.4 L921.9,1183.1 L914.1,1173.4 L912.2,1154.0 L902.5,1136.5 L900.5,1124.8 L914.1,1119.0 Z" fill="none" stroke="#62b84c" stroke-width="15"/>
<ellipse cx="1238" cy="1012" rx="30" ry="30" transform="rotate(0 1238 1012)" fill="#5ab548"/>
<ellipse cx="1262" cy="700" rx="12" ry="30" transform="rotate(10 1262 700)" fill="#5ab548"/>
<ellipse cx="1290" cy="735" rx="18" ry="10" transform="rotate(0 1290 735)" fill="#5ab548"/>
<ellipse cx="1372" cy="708" rx="20" ry="16" transform="rotate(0 1372 708)" fill="#5ab548"/>
<ellipse cx="1290" cy="640" rx="14" ry="25" transform="rotate(0 1290 640)" fill="#5ab548"/>
<ellipse cx="1262" cy="955" rx="8" ry="40" transform="rotate(0 1262 955)" fill="#5ab548"/>
<ellipse cx="1240" cy="880" rx="8" ry="60" transform="rotate(-5 1240 880)" fill="#5ab548"/>
<ellipse cx="1275" cy="800" rx="12" ry="12" transform="rotate(0 1275 800)" fill="#5ab548"/>
<ellipse cx="1150" cy="1068" rx="40" ry="8" transform="rotate(-10 1150 1068)" fill="#5ab548"/>
<ellipse cx="1110" cy="1060" rx="10" ry="12" transform="rotate(0 1110 1060)" fill="#5ab548"/>
<ellipse cx="1000" cy="1070" rx="18" ry="8" transform="rotate(-15 1000 1070)" fill="#5ab548"/>
<ellipse cx="1060" cy="1040" rx="20" ry="6" transform="rotate(-20 1060 1040)" fill="#5ab548"/>
<ellipse cx="935" cy="1140" rx="12" ry="20" transform="rotate(0 935 1140)" fill="#5ab548"/>
<ellipse cx="1100" cy="990" rx="12" ry="25" transform="rotate(30 1100 990)" fill="#5ab548"/>
<ellipse cx="1175" cy="965" rx="30" ry="8" transform="rotate(-40 1175 965)" fill="#5ab548"/>
<g fill="none" stroke="#55ad48" stroke-width="3.5" stroke-linecap="round" opacity="0.85">
<path d="M1262.0,640.0 C1263.0,648.3 1268.7,675.0 1268.0,690.0 C1267.3,705.0 1259.7,723.3 1258.0,730.0"/>
<path d="M1300.0,700.0 C1303.3,703.3 1311.7,717.5 1320.0,720.0 C1328.3,722.5 1345.0,715.8 1350.0,715.0"/>
<path d="M1240.0,800.0 C1241.7,805.0 1247.5,818.3 1250.0,830.0 C1252.5,841.7 1254.2,863.3 1255.0,870.0"/>
<path d="M1262.0,900.0 C1263.3,906.7 1270.0,926.7 1270.0,940.0 C1270.0,953.3 1263.3,973.3 1262.0,980.0"/>
<path d="M1230.0,900.0 C1227.5,905.0 1221.7,921.7 1215.0,930.0 C1208.3,938.3 1194.2,946.7 1190.0,950.0"/>
<path d="M1150.0,1000.0 C1154.2,1003.3 1168.3,1012.5 1175.0,1020.0 C1181.7,1027.5 1187.5,1040.8 1190.0,1045.0"/>
<path d="M1200.0,985.0 C1200.8,989.2 1201.7,1002.5 1205.0,1010.0 C1208.3,1017.5 1217.5,1026.7 1220.0,1030.0"/>
<path d="M1100.0,1060.0 C1096.7,1062.5 1088.3,1070.8 1080.0,1075.0 C1071.7,1079.2 1055.0,1083.3 1050.0,1085.0"/>
<path d="M1020.0,1060.0 C1015.0,1062.5 1000.0,1070.0 990.0,1075.0 C980.0,1080.0 965.0,1087.5 960.0,1090.0"/>
<path d="M940.0,1130.0 C940.8,1135.0 942.5,1150.0 945.0,1160.0 C947.5,1170.0 953.3,1185.0 955.0,1190.0"/>
<path d="M1010.0,1110.0 C1013.3,1110.8 1023.3,1115.8 1030.0,1115.0 C1036.7,1114.2 1046.7,1106.7 1050.0,1105.0"/>
<path d="M1120.0,1095.0 C1120.8,1098.3 1124.2,1111.7 1125.0,1115.0"/>
<path d="M1290.0,760.0 C1291.7,765.0 1299.2,780.0 1300.0,790.0 C1300.8,800.0 1295.8,815.0 1295.0,820.0"/>
<path d="M1335.0,670.0 C1339.2,673.3 1355.8,686.7 1360.0,690.0"/>
<path d="M1280.0,680.0 C1283.3,678.3 1296.7,671.7 1300.0,670.0"/>
</g>
<g fill="#d98a50" opacity="0.55" filter="url(#blur4)">
<ellipse cx="1180" cy="1000" rx="14" ry="20"/>
<ellipse cx="1205" cy="1015" rx="10" ry="14"/>
<ellipse cx="1300" cy="685" rx="10" ry="10"/>
<ellipse cx="1262" cy="860" rx="6" ry="14"/>
<ellipse cx="950" cy="1170" rx="6" ry="14"/>
<ellipse cx="1030" cy="1115" rx="10" ry="5"/>
</g>
</g>
</g>
<ellipse cx="1188" cy="923" rx="6" ry="9" fill="#62b84c"/><ellipse cx="889" cy="1087" rx="4" ry="10" fill="#62b84c"/>
<circle cx="1244" cy="1022" r="5" fill="#d01010"/><circle cx="1239" cy="1029" r="4" fill="#d01010"/><circle cx="1111" cy="1053.5" r="3.5" fill="#d01010"/><circle cx="1103.5" cy="1073" r="4" fill="#d01010"/>
<circle cx="1125" cy="1048" r="4" fill="#4ab0e0"/>
<text x="1031.9" y="852.0" font-size="17.0" font-weight="bold" fill="#1a3fd0" textLength="37.9" lengthAdjust="spacingAndGlyphs">MAR</text>
<text x="1075.4" y="852.0" font-size="17.0" font-weight="bold" fill="#1a3fd0" textLength="32.1" lengthAdjust="spacingAndGlyphs">DEL</text>
<text x="1032.3" y="875.0" font-size="17.0" font-weight="bold" fill="#1a3fd0" textLength="87.3" lengthAdjust="spacingAndGlyphs">GIAPPONE</text>
<text x="956.1" y="972.7" font-size="16.5" font-weight="bold" fill="#000" textLength="36.4" lengthAdjust="spacingAndGlyphs">ALPI</text>
<text x="997.9" y="972.7" font-size="16.5" font-weight="bold" fill="#000" textLength="99.5" lengthAdjust="spacingAndGlyphs">GIAPPONESI</text>
<text x="1257.6" y="1025.0" font-size="21.5" font-weight="bold" fill="#000" textLength="72.0" lengthAdjust="spacingAndGlyphs">TOKYO</text>
<text x="1235.8" y="1047.0" font-size="16.5" font-weight="bold" fill="#000" textLength="97.6" lengthAdjust="spacingAndGlyphs">YOKOHAMA</text>
<text x="1119.6" y="1061.7" font-size="16.5" font-weight="bold" fill="#000" textLength="55.0" lengthAdjust="spacingAndGlyphs">KYOTO</text>
<text x="1107.4" y="1090.5" font-size="16.5" font-weight="bold" fill="#000" textLength="56.4" lengthAdjust="spacingAndGlyphs">OSAKA</text>
<text x="1174.8" y="1130.7" font-size="16.5" font-weight="bold" fill="#1a3fd0" textLength="71.3" lengthAdjust="spacingAndGlyphs">OCEANO</text>
<text x="1174.4" y="1155.0" font-size="16.5" font-weight="bold" fill="#1a3fd0" textLength="74.6" lengthAdjust="spacingAndGlyphs">PACIFICO</text>
<path d="M1102,969 L1160,1004" stroke="#000" stroke-width="3"/><path d="M1171,1013 L1153,1010 L1162,995 Z" fill="#000" stroke="#000" stroke-width="2"/>
<defs><linearGradient id="sky" x1="0" y1="0" x2="1" y2="0.6"><stop offset="0" stop-color="#3f9be6"/><stop offset="0.6" stop-color="#56b0f4"/><stop offset="1" stop-color="#7cc4f8"/></linearGradient><linearGradient id="mtn" x1="0" y1="0" x2="0" y2="1"><stop offset="0" stop-color="#ffffff"/><stop offset="0.5" stop-color="#e6ecf6"/><stop offset="0.62" stop-color="#7d96c8"/><stop offset="1" stop-color="#5670aa"/></linearGradient><linearGradient id="water" x1="0" y1="0" x2="0" y2="1"><stop offset="0" stop-color="#5878a8"/><stop offset="0.2" stop-color="#7a8a78"/><stop offset="0.45" stop-color="#a09088"/><stop offset="0.7" stop-color="#5a7030"/><stop offset="1" stop-color="#3e5e40"/></linearGradient><linearGradient id="flow" x1="0" y1="0" x2="0" y2="1"><stop offset="0" stop-color="#c03cc8"/><stop offset="1" stop-color="#a028b0"/></linearGradient><clipPath id="fuji"><rect x="477" y="1604" width="371" height="233.5"/></clipPath><filter id="blur2"><feGaussianBlur stdDeviation="2"/></filter></defs>
<g clip-path="url(#fuji)">
<rect x="477" y="1604" width="371" height="233.5" fill="url(#sky)"/>
<path d="M537.9,1693.4 L588.7,1666.2 L631.2,1645.9 L656.6,1630.6 L670.2,1632.3 L699.0,1649.3 L741.4,1674.7 L783.8,1693.4 L831.3,1710.4 L831.3,1730.7 L537.9,1730.7 Z" fill="url(#mtn)"/>
<path d="M588.7,1666.2 L631.2,1645.9 L656.6,1630.6 L670.2,1632.3 L699.0,1649.3 L741.4,1674.7 L724.5,1676.4 L707.5,1667.9 L690.5,1674.7 L673.6,1662.9 L656.6,1676.4 L639.6,1669.6 L614.2,1674.7 Z" fill="#f4f6fa"/>
<g filter="url(#blur2)" fill="#fff"><ellipse cx="755.0" cy="1666.2" rx="24" ry="6" transform="rotate(20 755.0 1666.2)"/><ellipse cx="738.0" cy="1645.9" rx="9" ry="4"/></g>
<path d="M477.1,1686.6 L490.4,1690.0 L503.9,1686.6 L520.9,1687.5 L534.5,1696.8 L546.3,1698.5 L558.2,1703.6 L571.8,1697.6 L588.7,1703.6 L605.7,1699.3 L622.7,1696.8 L636.2,1691.7 L648.1,1698.5 L661.7,1695.1 L673.6,1701.9 L690.5,1701.9 L707.5,1712.0 L724.5,1710.4 L741.4,1707.0 L758.4,1712.0 L775.3,1705.3 L792.3,1710.4 L809.3,1705.3 L826.2,1708.7 L847.9,1705.3 L847.9,1757.8 L477.1,1757.8 Z" fill="#24572c"/>
<path d="M477.1,1713.7 L495.4,1723.9 L512.4,1730.7 L537.9,1730.7 L563.3,1740.9 L565.0,1757.8 L477.1,1762.9 Z" fill="#8c9a6a"/>
<path d="M744.8,1723.9 L766.9,1717.1 L783.8,1723.9 L809.3,1730.7 L826.2,1739.2 L826.2,1757.8 L749.9,1757.8 Z" fill="#6a9a48"/>
<path d="M595.5,1739.2 L622.7,1735.8 L656.6,1734.1 L690.5,1735.8 L724.5,1739.2 L749.9,1744.3 L749.9,1752.8 L595.5,1752.8 Z" fill="#d4b8c4"/>
<path d="M602.3,1744.3 L622.7,1742.6 L626.1,1751.9 L602.3,1751.9 Z" fill="#d8b840"/>
<rect x="477" y="1753.6" width="371" height="6" fill="#98a868"/>
<path d="M477.1,1762.1 L571.8,1758.7 L724.5,1758.7 L847.9,1760.4 L847.9,1774.8 L766.9,1771.4 L724.5,1766.3 L477.1,1766.3 Z" fill="#c83cc0"/>
<path d="M477.1,1766.3 L724.5,1766.3 L766.9,1771.4 L847.9,1774.8 L847.9,1783.3 L477.1,1774.8 Z" fill="#a8b068"/>
<rect x="477" y="1773.1" width="371" height="33.9" fill="url(#water)"/>
<path d="M477.1,1774.8 L732.9,1774.8 L775.3,1779.9 L847.9,1783.3 L847.9,1790.1 L477.1,1781.6 Z" fill="#5a7ab0" opacity="0.35"/>
<rect x="477" y="1807.0" width="371" height="40" fill="url(#flow)"/>
</g>
<defs><linearGradient id="floor" x1="0" y1="0" x2="0" y2="1"><stop offset="0" stop-color="#0e0c08"/><stop offset="0.5" stop-color="#26241c"/><stop offset="1" stop-color="#1c1c18"/></linearGradient><linearGradient id="body" x1="0" y1="0" x2="0" y2="1"><stop offset="0" stop-color="#e4e6f2"/><stop offset="0.5" stop-color="#d2d6e6"/><stop offset="1" stop-color="#c4c8d8"/></linearGradient><linearGradient id="cream" x1="0" y1="0" x2="0" y2="1"><stop offset="0" stop-color="#f0eee0"/><stop offset="1" stop-color="#d8d4b8"/></linearGradient><radialGradient id="refl" cx="0.5" cy="0.5" r="0.5"><stop offset="0" stop-color="#6a6650" stop-opacity="0.8"/><stop offset="1" stop-color="#6a6650" stop-opacity="0"/></radialGradient></defs>
<path d="M2045.3,1241.3 L2100.5,1229.5 L2101.8,1182.1 L2118.9,1168.9 L2137.4,1162.4 L2213.7,1162.4 L2213.7,1208.4 L2456.4,1252.2 L2594.1,1266.5 L2594.1,1232.1 L2638.6,1228.5 L2638.6,1296.7 L2320.0,1296.7 L2045.3,1297.9 Z" fill="url(#floor)"/>
<ellipse cx="2190" cy="1250" rx="60" ry="35" fill="url(#refl)"/>
<path d="M2045.3,1287.4 L2099.2,1229.5 L2104.5,1229.5 L2051.8,1297.9 L2045.3,1297.9 Z" fill="#d8d09a"/>
<path d="M2220.3,1218.3 L2340.0,1266.3 L2340.0,1274.2 L2215.0,1220.3 Z" fill="#d8d09a"/>
<path d="M2178.2,1190.0 L2211.1,1190.0 L2211.1,1215.0 L2178.2,1211.1 Z" fill="#e6e6e6"/>
<path d="M2100.5,1216.3 L2118.9,1216.3 L2118.9,1232.1 L2100.5,1232.1 Z" fill="#3a3a2a" opacity="0.5"/>
<path d="M2045.3,1127.5 L2079.5,1142.6 L2095.3,1155.8 L2099.9,1168.9 L2100.5,1182.1 L2100.5,1229.5 L2045.3,1241.3 Z" fill="#e8e8ee"/>
<path d="M2045.3,1180.8 L2100.5,1183.4 L2100.5,1197.9 L2045.3,1207.1 Z" fill="#1b4ba6"/>
<path d="M2045.3,1207.1 L2100.5,1197.9 L2100.5,1201.8 L2045.3,1212.4 Z" fill="#e0e0e8"/>
<path d="M2045.3,1212.4 L2100.5,1201.8 L2100.5,1205.8 L2045.3,1216.3 Z" fill="#2a58b0"/>
<path d="M2047.9,1145.3 L2050.8,1146.6 L2050.8,1171.6 L2047.9,1170.3 Z" fill="#9a6a28"/>
<path d="M2052.9,1147.1 L2055.8,1148.4 L2055.8,1172.1 L2052.9,1170.8 Z" fill="#9a6a28"/>
<path d="M2057.9,1148.9 L2060.8,1150.3 L2060.8,1172.6 L2057.9,1171.3 Z" fill="#9a6a28"/>
<path d="M2062.9,1150.8 L2065.8,1152.1 L2065.8,1173.2 L2062.9,1171.8 Z" fill="#9a6a28"/>
<path d="M2067.9,1152.6 L2070.8,1153.9 L2070.8,1173.7 L2067.9,1172.4 Z" fill="#9a6a28"/>
<path d="M2072.9,1154.5 L2075.8,1155.8 L2075.8,1174.2 L2072.9,1172.9 Z" fill="#9a6a28"/>
<path d="M2077.9,1156.3 L2080.8,1157.6 L2080.8,1174.7 L2077.9,1173.4 Z" fill="#9a6a28"/>
<path d="M2082.9,1158.2 L2085.8,1159.5 L2085.8,1175.3 L2082.9,1173.9 Z" fill="#9a6a28"/>
<path d="M2087.9,1160.0 L2090.8,1161.3 L2090.8,1175.8 L2087.9,1174.5 Z" fill="#9a6a28"/>
<path d="M2076.8,1212.4 L2099.2,1212.4 L2099.2,1233.4 L2076.8,1230.8 Z" fill="#d8d4b0"/>
<path d="M2100.5,1195.3 L2116.3,1197.9 L2118.9,1215.0 L2111.1,1232.1 L2103.2,1232.1 L2100.5,1211.1 Z" fill="#b08a98"/>
<path d="M2212.4,1187.4 L2224.2,1188.7 L2225.5,1208.4 L2221.6,1226.8 L2213.7,1226.8 L2212.4,1205.8 Z" fill="#9a3a70"/>
<path d="M2137.4,1191.3 L2150.5,1191.3 L2150.5,1212.4 L2137.4,1212.4 Z" fill="#8a7a30"/>
<path d="M2212.4,1175.5 L2340.0,1166.3 L2320.0,1167.5 L2374.5,1173.2 L2394.6,1193.3 L2434.8,1236.4 L2456.4,1252.2 L2340.0,1242.6 L2276.8,1221.6 L2224.2,1205.8 L2212.4,1204.5 Z" fill="url(#cream)"/>
<path d="M2320.0,1245.0 L2456.4,1252.2 L2477.9,1257.9 L2477.9,1269.4 L2391.8,1268.0 L2320.0,1255.1 Z" fill="#8a8470"/>
<path d="M2320.0,1118.7 C2329.6,1118.2 2360.7,1115.4 2377.4,1115.8 C2394.2,1116.3 2406.1,1117.3 2420.5,1121.6 C2434.8,1125.9 2449.2,1133.5 2463.5,1141.7 C2477.9,1149.8 2492.2,1159.9 2506.6,1170.4 C2520.9,1180.9 2535.3,1193.8 2549.7,1204.8 C2564.0,1215.8 2580.8,1228.5 2592.7,1236.4 C2604.7,1244.3 2615.9,1248.1 2621.4,1252.2 C2626.9,1256.3 2628.1,1258.7 2625.7,1260.8 C2623.3,1263.0 2622.1,1264.3 2607.1,1265.1 C2592.0,1265.9 2556.8,1267.3 2535.3,1265.8 C2513.8,1264.4 2494.6,1261.4 2477.9,1256.5 C2461.1,1251.6 2448.7,1246.9 2434.8,1236.4 C2421.0,1225.9 2404.7,1203.9 2394.6,1193.3 C2384.6,1182.8 2387.0,1177.6 2374.5,1173.2 C2362.1,1168.9 2329.1,1168.5 2320.0,1167.5 Z" fill="url(#body)"/>
<path d="M2211.7,1164.3 L2276.8,1131.4 L2340.0,1115.7 L2340.0,1168.9 L2212.4,1175.5 Z" fill="#dfe2ee"/>
<path d="M2212.4,1165.0 L2276.8,1133.4 L2340.0,1118.9 L2340.0,1124.2 L2276.8,1138.7 L2213.7,1167.6 Z" fill="#1b4ba6"/>
<path d="M2213.7,1171.6 L2276.8,1146.6 L2340.0,1136.1 L2340.0,1165.0 L2276.8,1167.6 L2213.7,1175.5 Z" fill="#1b4ba6"/>
<path d="M2320.0,1120.1 L2363.1,1124.4 L2406.1,1147.4 L2449.2,1181.9 L2485.1,1213.4 L2512.3,1237.8 L2506.6,1237.8 L2463.5,1207.7 L2420.5,1187.6 L2377.4,1167.5 L2320.0,1164.6 Z" fill="#1b4ba6"/>
<path d="M2320.0,1127.6 L2363.1,1131.6 L2388.9,1154.6 L2355.9,1138.8 L2320.0,1135.9 Z" fill="#dfe2ee"/>
<path d="M2463.5,1141.7 L2499.4,1164.6 L2535.3,1199.1 L2564.0,1227.8 L2558.3,1227.8 L2528.1,1199.1 L2492.2,1167.5 L2457.8,1144.5 Z" fill="#1b4ba6"/>
<path d="M2432.0,1144.5 L2444.9,1144.5 L2467.8,1161.8 L2454.9,1163.2 Z" fill="#e8c8a0"/>
<path d="M2457.8,1164.6 L2473.6,1164.6 L2482.2,1173.2 L2465.0,1174.0 Z" fill="#302820"/>
<path d="M2305.8,1097.9 L2315.0,1093.3 L2333.4,1115.0 L2320.3,1118.3 Z" fill="#3e58a8"/>
<path d="M2115.2,1553.8 C2117.3,1554.1 2123.8,1554.6 2127.7,1555.7 C2131.6,1556.7 2137.6,1558.7 2138.7,1560.0 C2139.7,1561.4 2134.5,1560.3 2134.0,1563.5 C2133.4,1566.7 2135.5,1573.2 2135.5,1579.2 C2135.5,1585.2 2134.5,1592.5 2134.0,1599.5 C2133.4,1606.6 2133.2,1614.7 2132.4,1621.4 C2131.6,1628.2 2131.6,1636.8 2129.3,1640.2 C2126.9,1643.6 2119.6,1644.9 2118.3,1641.8 C2117.0,1638.7 2120.7,1628.5 2121.4,1621.4 C2122.2,1614.4 2122.7,1606.6 2123.0,1599.5 C2123.3,1592.5 2123.3,1585.2 2123.0,1579.2 C2122.7,1573.2 2122.7,1567.7 2121.4,1563.5 C2120.1,1559.3 2116.2,1555.4 2115.2,1553.8 Z" fill="#000"/>
<path d="M2097.2,1573.7 C2101.2,1573.0 2112.7,1570.9 2121.4,1569.8 C2130.2,1568.6 2142.3,1566.5 2149.6,1566.6 C2156.9,1566.8 2161.4,1568.7 2165.3,1570.5 C2169.2,1572.4 2172.3,1574.8 2173.1,1577.6 C2173.9,1580.3 2171.8,1584.4 2170.0,1587.0 C2168.2,1589.6 2165.6,1591.2 2162.2,1593.2 C2158.8,1595.3 2154.3,1598.1 2149.6,1599.5 C2144.9,1601.0 2135.5,1602.4 2134.0,1601.9 C2132.4,1601.3 2136.8,1598.6 2140.2,1596.4 C2143.6,1594.2 2151.7,1591.4 2154.3,1588.6 C2156.9,1585.7 2156.9,1581.4 2155.9,1579.2 C2154.9,1576.9 2152.8,1575.5 2148.1,1575.2 C2143.4,1575.0 2134.8,1576.9 2127.7,1577.6 C2120.7,1578.2 2110.9,1579.8 2105.8,1579.2 C2100.7,1578.5 2098.6,1574.6 2097.2,1573.7 Z" fill="#000"/>
<path d="M2049.4,1605.0 C2055.7,1603.4 2074.2,1598.3 2087.0,1595.6 C2099.8,1592.9 2113.6,1590.6 2126.1,1588.6 C2138.7,1586.5 2153.0,1584.4 2162.2,1583.1 C2171.3,1581.7 2175.2,1580.7 2181.0,1580.4 C2186.7,1580.1 2191.9,1580.2 2196.6,1581.0 C2201.3,1581.9 2206.1,1583.8 2209.1,1585.4 C2212.1,1587.1 2215.2,1590.0 2214.6,1590.9 C2214.1,1591.8 2209.5,1591.3 2206.0,1590.9 C2202.5,1590.5 2198.2,1588.8 2193.5,1588.6 C2188.8,1588.3 2183.0,1588.8 2177.8,1589.3 C2172.6,1589.9 2170.5,1590.1 2162.2,1591.7 C2153.8,1593.2 2139.7,1596.1 2127.7,1598.7 C2115.7,1601.3 2100.8,1604.6 2090.1,1607.3 C2079.4,1610.1 2070.3,1615.6 2063.5,1615.2 C2056.7,1614.8 2051.7,1606.7 2049.4,1605.0 Z" fill="#000"/>
<path d="M2087.0,1612.8 C2091.7,1611.8 2106.3,1608.3 2115.2,1606.6 C2124.1,1604.9 2132.9,1603.7 2140.2,1602.6 C2147.5,1601.6 2155.4,1599.8 2159.0,1600.3 C2162.7,1600.8 2165.3,1604.2 2162.2,1605.8 C2159.0,1607.3 2148.1,1608.1 2140.2,1609.7 C2132.4,1611.3 2123.0,1613.7 2115.2,1615.2 C2107.3,1616.6 2097.9,1618.7 2093.2,1618.3 C2088.6,1617.9 2088.0,1613.7 2087.0,1612.8 Z" fill="#000"/>
<path d="M2091.7,1629.3 C2096.1,1628.2 2110.0,1624.7 2118.3,1623.0 C2126.7,1621.3 2134.2,1619.9 2141.8,1619.1 C2149.4,1618.3 2159.4,1617.7 2163.7,1618.3 C2168.0,1619.0 2167.9,1621.7 2167.6,1623.0 C2167.4,1624.3 2166.7,1625.4 2162.2,1626.1 C2157.6,1626.9 2148.1,1626.7 2140.2,1627.7 C2132.4,1628.7 2122.5,1631.1 2115.2,1632.4 C2107.9,1633.7 2100.3,1636.1 2096.4,1635.5 C2092.5,1635.0 2092.5,1630.3 2091.7,1629.3 Z" fill="#000"/>
<path d="M2073.7,1652.0 C2078.5,1650.9 2092.6,1647.9 2102.6,1645.7 C2112.7,1643.5 2124.1,1640.6 2134.0,1638.7 C2143.9,1636.7 2155.4,1634.5 2162.2,1634.0 C2168.9,1633.4 2171.4,1634.2 2174.7,1635.5 C2178.0,1636.8 2181.7,1640.5 2181.7,1641.8 C2181.7,1643.1 2180.0,1642.8 2174.7,1643.4 C2169.3,1643.9 2159.0,1643.6 2149.6,1644.9 C2140.2,1646.2 2128.7,1649.0 2118.3,1651.2 C2107.9,1653.4 2094.4,1658.1 2087.0,1658.2 C2079.5,1658.4 2075.9,1653.0 2073.7,1652.0 Z" fill="#000"/>
<path d="M2096.4,1662.2 C2098.7,1661.6 2108.9,1655.9 2110.5,1659.0 C2112.0,1662.2 2106.0,1674.7 2105.8,1681.0 C2105.5,1687.2 2110.0,1693.5 2108.9,1696.6 C2107.9,1699.7 2101.3,1702.4 2099.5,1699.7 C2097.7,1697.1 2098.5,1687.2 2097.9,1681.0 C2097.4,1674.7 2096.6,1665.3 2096.4,1662.2 Z" fill="#000"/>
<path d="M2097.9,1659.0 C2104.0,1657.7 2123.3,1652.4 2134.0,1651.2 C2144.7,1650.0 2155.1,1650.7 2162.2,1652.0 C2169.2,1653.3 2173.3,1656.3 2176.3,1659.0 C2179.3,1661.8 2180.4,1664.8 2180.2,1668.4 C2179.9,1672.1 2177.4,1676.3 2174.7,1681.0 C2171.9,1685.7 2167.9,1691.9 2163.7,1696.6 C2159.6,1701.3 2153.3,1707.6 2149.6,1709.1 C2146.0,1710.7 2141.3,1709.1 2141.8,1706.0 C2142.3,1702.9 2149.1,1695.8 2152.8,1690.4 C2156.4,1684.9 2161.6,1677.3 2163.7,1673.1 C2165.8,1668.9 2166.1,1667.4 2165.3,1665.3 C2164.5,1663.2 2164.2,1661.0 2159.0,1660.6 C2153.8,1660.2 2143.1,1661.4 2134.0,1662.9 C2124.8,1664.5 2110.2,1670.6 2104.2,1670.0 C2098.2,1669.3 2099.0,1660.9 2097.9,1659.0 Z" fill="#000"/>
<path d="M2110.5,1677.0 C2114.4,1676.5 2128.0,1674.2 2134.0,1673.9 C2140.0,1673.6 2144.9,1673.8 2146.5,1675.0 C2148.1,1676.2 2147.5,1679.8 2143.4,1681.0 C2139.2,1682.1 2126.7,1681.7 2121.4,1681.7 C2116.2,1681.7 2113.9,1681.7 2112.0,1681.0 C2110.2,1680.2 2110.7,1677.7 2110.5,1677.0 Z" fill="#000"/>
<path d="M2105.8,1696.6 C2109.4,1695.6 2120.7,1691.3 2127.7,1690.4 C2134.8,1689.4 2144.7,1690.1 2148.1,1691.1 C2151.5,1692.2 2151.5,1695.4 2148.1,1696.6 C2144.7,1697.8 2134.5,1697.4 2127.7,1698.2 C2120.9,1699.0 2111.0,1701.6 2107.3,1701.3 C2103.7,1701.1 2106.0,1697.4 2105.8,1696.6 Z" fill="#000"/>
<path d="M2199.7,1696.6 C2200.0,1703.1 2201.8,1725.3 2201.3,1735.8 C2200.8,1746.2 2199.0,1753.0 2196.6,1759.3 C2194.3,1765.5 2188.8,1771.0 2187.2,1773.4" fill="none" stroke="#000" stroke-width="6.656225528582616" stroke-linecap="round" stroke-linejoin="round"/>
<path d="M2201.3,1694.3 C2205.0,1693.9 2219.7,1686.3 2223.2,1691.9 C2226.8,1697.5 2222.7,1714.9 2222.5,1727.9 C2222.2,1741.0 2221.8,1763.2 2221.7,1770.2" fill="none" stroke="#000" stroke-width="7.439310884886453" stroke-linecap="round" stroke-linejoin="round"/>
<path d="M2203.7,1717.0 C2206.7,1716.7 2218.7,1715.7 2221.7,1715.4" fill="none" stroke="#000" stroke-width="5.873140172278778" stroke-linecap="round" stroke-linejoin="round"/>
<path d="M2203.7,1737.3 C2206.7,1737.1 2218.7,1736.0 2221.7,1735.8" fill="none" stroke="#000" stroke-width="5.873140172278778" stroke-linecap="round" stroke-linejoin="round"/>
<path d="M2208.4,1762.4 C2210.6,1763.6 2219.5,1768.7 2221.7,1769.9" fill="none" stroke="#000" stroke-width="5.48159749412686" stroke-linecap="round" stroke-linejoin="round"/>
<path d="M2243.6,1682.5 C2244.1,1686.2 2246.1,1697.4 2246.7,1704.4 C2247.4,1711.5 2247.4,1721.4 2247.5,1724.8" fill="none" stroke="#000" stroke-width="8.22239624119029" stroke-linecap="round" stroke-linejoin="round"/>
<path d="M2231.9,1712.3 C2234.3,1712.0 2241.6,1711.2 2246.7,1710.7 C2251.8,1710.2 2259.8,1709.4 2262.4,1709.1" fill="none" stroke="#000" stroke-width="6.656225528582616" stroke-linecap="round" stroke-linejoin="round"/>
<path d="M2227.2,1733.0 C2230.2,1732.5 2239.0,1731.6 2245.2,1730.3 C2251.3,1728.9 2260.8,1725.7 2264.0,1724.8" fill="none" stroke="#000" stroke-width="7.047768206734534" stroke-linecap="round" stroke-linejoin="round"/>
<path d="M2242.0,1737.3 C2240.7,1739.4 2236.6,1746.5 2234.2,1749.9 C2231.9,1753.3 2226.4,1756.9 2227.9,1757.7 C2229.5,1758.5 2237.9,1755.7 2243.6,1754.6 C2249.3,1753.4 2259.3,1751.3 2262.4,1750.6" fill="none" stroke="#000" stroke-width="6.656225528582616" stroke-linecap="round" stroke-linejoin="round"/>
<path d="M2254.6,1743.6 C2255.9,1745.0 2261.1,1750.8 2262.4,1752.2" fill="none" stroke="#000" stroke-width="6.656225528582616" stroke-linecap="round" stroke-linejoin="round"/>
<path d="M2278.1,1707.6 C2280.8,1707.1 2292.0,1701.4 2294.5,1704.8 C2297.0,1708.2 2294.2,1721.5 2292.9,1727.9 C2291.6,1734.4 2287.7,1741.0 2286.7,1743.6" fill="none" stroke="#000" stroke-width="7.047768206734534" stroke-linecap="round" stroke-linejoin="round"/>
<path d="M2267.9,1707.6 C2268.0,1713.6 2268.3,1731.6 2268.7,1743.6 C2269.1,1755.6 2270.0,1773.6 2270.2,1779.6" fill="none" stroke="#000" stroke-width="7.830853563038372" stroke-linecap="round" stroke-linejoin="round"/>
<path d="M2387.0,1609.0 C2390.9,1610.3 2401.2,1614.5 2410.1,1616.3 C2419.0,1618.1 2431.3,1619.1 2440.2,1619.8 C2449.0,1620.4 2455.7,1620.3 2463.2,1620.3 C2470.8,1620.3 2476.6,1620.6 2485.3,1619.8 C2494.0,1618.9 2507.0,1617.3 2515.4,1615.3 C2523.7,1613.2 2532.1,1608.8 2535.4,1607.5 L2536.9,1610.6 2530.4,1623.1 L2523.4,1631.1 L2517.4,1634.6 L2517.4,1639.6 L2406.1,1639.6 L2405.1,1634.6 L2399.1,1630.1 L2394.1,1623.1 L2390.1,1615.1 L2387.0,1610.6 Z" fill="#e0473a"/>
<path d="M2426.1,1639.1 L2444.2,1639.1 L2440.2,1643.1 L2444.2,1647.6 L2430.2,1647.6 L2426.1,1644.1 Z" fill="#e0473a"/>
<path d="M2455.7,1639.1 L2468.8,1639.1 L2468.8,1648.2 L2455.7,1648.2 Z" fill="#e0473a"/>
<path d="M2480.3,1639.1 L2499.3,1639.1 L2495.3,1643.1 L2499.3,1647.6 L2484.3,1647.6 L2480.3,1644.1 Z" fill="#e0473a"/>
<rect x="2406.1" y="1647.1" width="111.3" height="14.2" rx="2" fill="#e0473a"/>
<rect x="2426.1" y="1660.2" width="11.5" height="78.7" rx="3" fill="#e0473a"/>
<rect x="2487.3" y="1660.2" width="10.8" height="78.7" rx="3" fill="#e0473a"/>
<path d="M2422.1,1674.7 L2426.1,1673.2 L2426.1,1683.7 L2424.6,1682.2 Z" fill="#e0473a"/>
<path d="M2498.1,1673.2 L2501.8,1674.7 L2499.8,1682.2 L2498.1,1683.7 Z" fill="#e0473a"/>
</svg></body></html>
